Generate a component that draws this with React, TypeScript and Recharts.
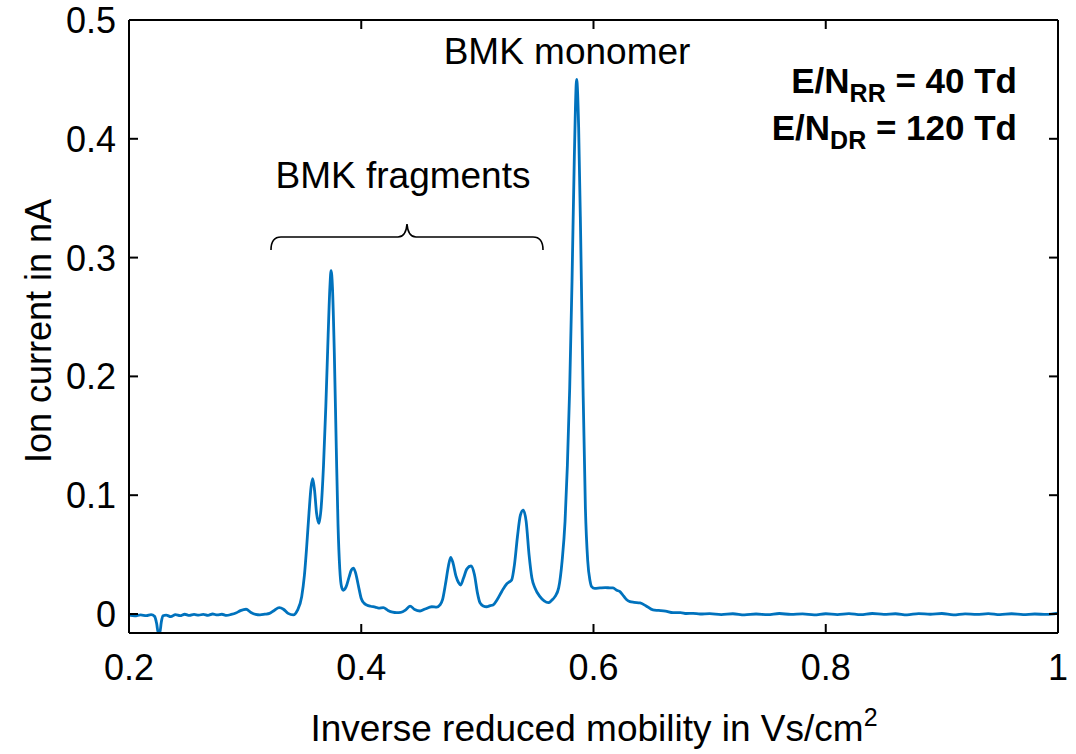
import { Line, LineChart, XAxis, YAxis } from "recharts";

// Inverse reduced mobility (Vs/cm²) of each sample in the spectrum
const mobility = [
	0.2, 0.205, 0.21, 0.215, 0.219, 0.222, 0.2238, 0.2252, 0.2265, 0.2278, 0.2292, 0.232, 0.236, 0.24,
	0.244, 0.248, 0.252, 0.256, 0.26, 0.264, 0.268, 0.272, 0.276, 0.28, 0.284, 0.288, 0.292, 0.296,
	0.3008, 0.305, 0.309, 0.3128, 0.317, 0.321, 0.325, 0.3294, 0.333, 0.337, 0.3415, 0.345, 0.3487,
	0.351, 0.353, 0.355, 0.3568, 0.3582, 0.3598, 0.3615, 0.3636, 0.3655, 0.3675, 0.3695, 0.3715, 0.373,
	0.374, 0.3752, 0.3768, 0.3785, 0.38, 0.3815, 0.383, 0.3845, 0.387, 0.3895, 0.3915, 0.3932, 0.395,
	0.3975, 0.4, 0.4025, 0.4047, 0.408, 0.412, 0.415, 0.419, 0.423, 0.427, 0.4305, 0.434, 0.438, 0.442,
	0.446, 0.4506, 0.455, 0.4607, 0.465, 0.4678, 0.47, 0.4725, 0.475, 0.477, 0.479, 0.4815, 0.484,
	0.4856, 0.488, 0.491, 0.4945, 0.4975, 0.5, 0.5023, 0.505, 0.508, 0.511, 0.5135, 0.517, 0.521,
	0.5252, 0.5275, 0.5295, 0.532, 0.5345, 0.537, 0.5395, 0.542, 0.5445, 0.547, 0.5496, 0.5539, 0.5575,
	0.5611, 0.564, 0.5668, 0.57, 0.573, 0.5755, 0.5775, 0.5795, 0.5815, 0.5835, 0.5855, 0.5872, 0.589,
	0.591, 0.593, 0.595, 0.597, 0.5984, 0.601, 0.6056, 0.61, 0.614, 0.6168, 0.62, 0.6228, 0.626, 0.6286,
	0.6314, 0.635, 0.6401, 0.645, 0.6512, 0.656, 0.662, 0.6685, 0.675, 0.68, 0.6857, 0.6918, 0.7, 0.71,
	0.72, 0.73, 0.74, 0.75, 0.76, 0.77, 0.78, 0.79, 0.8, 0.81, 0.82, 0.83, 0.84, 0.85, 0.86, 0.87, 0.88,
	0.89, 0.9, 0.91, 0.92, 0.93, 0.94, 0.95, 0.96, 0.97, 0.98, 0.99, 1.0,
];

// Ion current (nA) at each mobility value
const current = [
	-0.001, -0.0016, -0.0008, -0.0014, -0.0006, -0.002, -0.008, -0.016, -0.016, -0.007, -0.0015, -0.001,
	-0.0022, -0.0005, -0.0014, -0.0002, -0.0012, -0.0004, -0.001, -0.0003, -0.0011, 0.0, -0.0008,
	-0.0002, -0.0012, -0.0004, 0.0008, 0.0028, 0.004, 0.0012, -0.0004, -0.0008, -0.0002, 0.0005, 0.003,
	0.0053, 0.004, 0.0005, -0.0008, 0.003, 0.0146, 0.032, 0.0566, 0.085, 0.107, 0.114, 0.104, 0.085,
	0.0763, 0.09, 0.125, 0.175, 0.235, 0.275, 0.289, 0.275, 0.22, 0.14, 0.075, 0.038, 0.023, 0.02, 0.023,
	0.031, 0.037, 0.0385, 0.035, 0.024, 0.013, 0.009, 0.0076, 0.0065, 0.0058, 0.005, 0.0053, 0.003,
	0.0015, 0.0011, 0.0013, 0.0032, 0.0067, 0.0038, 0.0025, 0.0042, 0.0061, 0.0058, 0.0076, 0.012, 0.025,
	0.04, 0.0477, 0.043, 0.032, 0.026, 0.0244, 0.03, 0.038, 0.0404, 0.033, 0.018, 0.0093, 0.0068, 0.0061,
	0.007, 0.0076, 0.012, 0.019, 0.0253, 0.027, 0.0286, 0.042, 0.065, 0.083, 0.0875, 0.078, 0.05, 0.03,
	0.0219, 0.0146, 0.011, 0.0095, 0.0115, 0.0146, 0.022, 0.045, 0.078, 0.125, 0.19, 0.28, 0.385, 0.45,
	0.41, 0.315, 0.19, 0.09, 0.045, 0.028, 0.023, 0.0215, 0.0219, 0.0222, 0.022, 0.0219, 0.02, 0.0188,
	0.015, 0.012, 0.0104, 0.0098, 0.0093, 0.007, 0.0034, 0.003, 0.0025, 0.0011, 0.0012, 0.0004, 0.0005,
	0.0, 0.0003, -0.0005, 0.0002, -0.0008, 0.0, -0.0006, 0.0004, -0.0004, 0.0001, -0.0007, 0.0002,
	-0.0005, 0.0003, -0.0006, 0.0004, -0.0003, 0.0002, -0.0007, 0.0003, -0.0002, 0.0004, -0.0008,
	0.0001, -0.0004, 0.0003, -0.0006, 0.0002, -0.0005, 0.0, -0.0004, 0.0008,
];

const xTicks = [0.2, 0.4, 0.6, 0.8, 1];
const yTicks = [0, 0.1, 0.2, 0.3, 0.4, 0.5];

const rows = mobility.map((x, i) => ({ x, y: current[i] }));

const FONT = "'Liberation Sans', Arial, Helvetica, sans-serif";
const TICK_LEN = 9;
const fmt = (v: number) => (v === 0 || v === 1 ? String(v) : v.toFixed(1));

// Ticks point into the plot box, MATLAB style; labels only on bottom/left.
function BottomTick({ x, y, payload }: any) {
	return (
		<g>
			<line x1={x} x2={x} y1={y} y2={y - TICK_LEN} stroke="#000" strokeWidth={2} />
			<text x={x} y={y + 47} textAnchor="middle" fontSize={36} fill="#000" fontFamily={FONT}>
				{fmt(payload.value)}
			</text>
		</g>
	);
}

function TopTick({ x, y }: any) {
	return <line x1={x} x2={x} y1={y} y2={y + TICK_LEN} stroke="#000" strokeWidth={2} />;
}

function LeftTick({ x, y, payload }: any) {
	return (
		<g>
			<line x1={x} x2={x + TICK_LEN} y1={y} y2={y} stroke="#000" strokeWidth={2} />
			<text x={x - 13} y={y + 13} textAnchor="end" fontSize={36} fill="#000" fontFamily={FONT}>
				{fmt(payload.value)}
			</text>
		</g>
	);
}

function RightTick({ x, y }: any) {
	return <line x1={x} x2={x - TICK_LEN} y1={y} y2={y} stroke="#000" strokeWidth={2} />;
}

const axisLine = { stroke: "#000", strokeWidth: 2 };

export default function App() {
	return (
		<div style={{ position: "absolute", left: 0, top: 0, width: 1076, height: 754, background: "#fff" }}>
			<LineChart
				width={1076}
				height={754}
				data={rows}
				margin={{ top: 19, right: 17, bottom: 91, left: 128 }}
			>
				<XAxis
					dataKey="x"
					type="number"
					domain={[0.2, 1]}
					ticks={xTicks}
					height={30}
					tickSize={0}
					tickMargin={0}
					tickLine={false}
					axisLine={axisLine}
					tick={<BottomTick />}
					interval={0}
				/>
				<XAxis
					xAxisId="top"
					orientation="top"
					dataKey="x"
					type="number"
					domain={[0.2, 1]}
					ticks={xTicks}
					height={1}
					tickSize={0}
					tickMargin={0}
					tickLine={false}
					axisLine={axisLine}
					tick={<TopTick />}
					interval={0}
				/>
				<YAxis
					type="number"
					domain={[-0.016, 0.5]}
					ticks={yTicks}
					allowDataOverflow
					width={1}
					tickSize={0}
					tickMargin={0}
					tickLine={false}
					axisLine={axisLine}
					tick={<LeftTick />}
					interval={0}
				/>
				<YAxis
					yAxisId="right"
					orientation="right"
					type="number"
					domain={[-0.016, 0.5]}
					ticks={yTicks}
					allowDataOverflow
					width={1}
					tickSize={0}
					tickMargin={0}
					tickLine={false}
					axisLine={axisLine}
					tick={<RightTick />}
					interval={0}
				/>
				<Line
					dataKey="y"
					type="monotone"
					stroke="#0072BD"
					strokeWidth={2.8}
					dot={false}
					activeDot={false}
					isAnimationActive={false}
				/>
			</LineChart>
			{/* axis titles and peak annotations */}
			<svg
				width={1076}
				height={754}
				style={{ position: "absolute", left: 0, top: 0, pointerEvents: "none" }}
				fontFamily={FONT}
			>
				<text x={594} y={741} textAnchor="middle" fontSize={37} fill="#000">
					Inverse reduced mobility in Vs/cm
					<tspan fontSize={25} dy={-15}>
						2
					</tspan>
				</text>
				<text
					x={51}
					y={331}
					textAnchor="middle"
					fontSize={36}
					fill="#000"
					transform="rotate(-90, 51, 331)"
				>
					Ion current in nA
				</text>
				<text x={567} y={64} textAnchor="middle" fontSize={37} fill="#000">
					BMK monomer
				</text>
				<text x={403} y={188} textAnchor="middle" fontSize={37} fill="#000">
					BMK fragments
				</text>
				<path
					d="M 271 250 Q 271 237 281 237 L 398 237 Q 406 237 407 224 Q 408 237 416 237 L 533 237 Q 543 237 543 250"
					fill="none"
					stroke="#000"
					strokeWidth={1.6}
				/>
				<text x={1017} y={93} textAnchor="end" fontSize={35} fontWeight="bold" fill="#000">
					E/N
					<tspan fontSize={25} dy={9}>
						RR
					</tspan>
					<tspan dy={-9}> = 40 Td</tspan>
				</text>
				<text x={1017} y={140} textAnchor="end" fontSize={35} fontWeight="bold" fill="#000">
					E/N
					<tspan fontSize={25} dy={9}>
						DR
					</tspan>
					<tspan dy={-9}> = 120 Td</tspan>
				</text>
			</svg>
		</div>
	);
}
